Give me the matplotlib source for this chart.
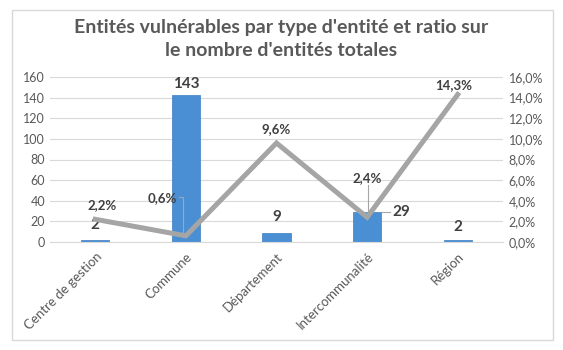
import numpy as np
import matplotlib.pyplot as plt
from matplotlib.patches import Rectangle

plt.rcParams['font.family'] = ['Lato', 'DejaVu Sans']

categories = ['Centre de gestion', 'Commune', 'Département', 'Intercommunalité', 'Région']
counts = [2, 143, 9, 29, 2]
ratios = [2.2, 0.6, 9.6, 2.4, 14.3]
ratio_labels = ['2,2%', '0,6%', '9,6%', '2,4%', '14,3%']
left_ticks = [0, 20, 40, 60, 80, 100, 120, 140, 160]
right_ticks = [0, 2, 4, 6, 8, 10, 12, 14, 16]

text_col = '#595959'
grid_col = '#D9D9D9'

fig = plt.figure(figsize=(5.63, 3.5), dpi=100)
fig.patches.append(Rectangle((12 / 563, 10 / 350), 541 / 563, 330 / 350,
                             transform=fig.transFigure, fill=False,
                             edgecolor=grid_col, linewidth=1))

ax = fig.add_axes([50 / 563, 1 - 242 / 350, 453 / 563, 165 / 350])
x = np.arange(len(categories))
ax.bar(x, counts, width=0.31, color='#4A8FD4', edgecolor='#3C7DC0', linewidth=0.5, zorder=2)
ax.set_xlim(-0.5, 4.5)
ax.set_ylim(0, 160)
ax.set_yticks(left_ticks)
ax.set_yticklabels([str(t) for t in left_ticks])
ax.grid(axis='y', color=grid_col, linewidth=0.8, zorder=0)
ax.set_axisbelow(True)
for s in ['top', 'right', 'left']:
    ax.spines[s].set_visible(False)
ax.spines['bottom'].set_color(grid_col)
ax.tick_params(length=0, colors=text_col, labelsize=9)
ax.set_xticks(x)
ax.set_xticklabels(categories, rotation=45, ha='right', rotation_mode='anchor', fontsize=9.5)
ax.tick_params(axis='x', pad=6)

ax2 = ax.twinx()
ax2.plot(x, ratios, color='#A5A5A5', linewidth=3.6, solid_joinstyle='miter', zorder=3)
ax2.set_ylim(0, 16)
ax2.set_yticks(right_ticks)
ax2.set_yticklabels([f'{t},0%' for t in right_ticks])
for s in ax2.spines.values():
    s.set_visible(False)
ax2.tick_params(length=0, colors=text_col, labelsize=9, pad=4)

# bar labels (offsets in points)
bar_offsets = [(0, 6), (0, 2.5), (0, 6.5), (18, 0), (0, 4)]
for i, (c, off) in enumerate(zip(counts, bar_offsets)):
    if i == 3:
        ax.annotate(str(c), (x[i], c), xytext=off, textcoords='offset points',
                    ha='left', va='center', fontsize=11, fontweight='bold', color='#404040',
                    zorder=5)
        ax.plot([x[i] + 0.166, x[i] + 0.254], [c, c], color='#A5A5A5', lw=0.8, zorder=4)
    else:
        ax.annotate(str(c), (x[i], c), xytext=off, textcoords='offset points',
                    ha='center', va='bottom', fontsize=11, fontweight='bold', color='#404040',
                    zorder=5)

# line labels
line_offsets = [(5, 6), (-17, 23), (0, 6), (0, 24), (-3, 2.5)]
for i, (r, lab, off) in enumerate(zip(ratios, ratio_labels, line_offsets)):
    ax2.annotate(lab, (x[i], r), xytext=off, textcoords='offset points',
                 ha='center', va='bottom', fontsize=9.5, fontweight='bold', color='#404040',
                 zorder=5)

# leader lines for 0,6% and 2,4%
ax2.plot([x[1] - 0.03, x[1] - 0.03, x[1] - 0.08], [0.5, 4.36, 4.36], color='#A5A5A5', lw=0.8, zorder=4)
ax2.plot([x[3] + 0.005, x[3] + 0.005], [2.8, 5.5], color='#A5A5A5', lw=0.8, zorder=4)

fig.text(0.5, 1 - 28 / 350, "Entités vulnérables par type d'entité et ratio sur",
         ha='center', va='center', fontsize=14, fontweight='bold', color=text_col)
fig.text(0.5, 1 - 50 / 350, "le nombre d'entités totales",
         ha='center', va='center', fontsize=14, fontweight='bold', color=text_col)

fig.savefig('out.png', dpi=100)
